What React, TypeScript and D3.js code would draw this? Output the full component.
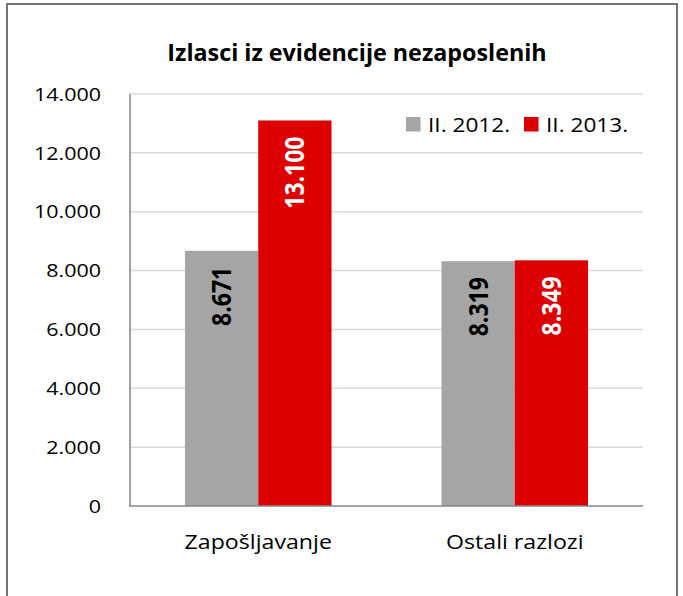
import React, { useEffect } from "react";
import * as d3 from "d3";

const categories = ["Zapošljavanje", "Ostali razlozi"];
const seriesNames = ["II. 2012.", "II. 2013."];
const values2012 = [8671, 8319];
const values2013 = [13100, 8349];
const yTicks = [0, 2000, 4000, 6000, 8000, 10000, 12000, 14000];
const title = "Izlasci iz evidencije nezaposlenih";

const W = 683;
const H = 596;
const margin = { left: 130, right: 40, top: 94, bottom: 90 };
const SX = 1.12; // text in the source is a bit wider than Open Sans
const FONT = "'Open Sans', 'Noto Sans', sans-serif";
const colors = ["#a5a5a5", "#dd0000"];
const labelColors = ["#000000", "#ffffff"];

const fmt = (v: number) => d3.format(",")(v).replace(/,/g, ".");

export default function App() {
  useEffect(() => {
    document.body.style.margin = "0";
  }, []);

  const plotRight = W - margin.right;
  const plotBottom = H - margin.bottom;

  const x0 = d3.scaleBand<string>().domain(categories).range([margin.left, plotRight]).padding(0);
  const x1 = d3
    .scaleBand<string>()
    .domain(seriesNames)
    .range([0, x0.bandwidth()])
    .paddingInner(0)
    .paddingOuter(0.75);
  const y = d3.scaleLinear().domain([0, 14000]).range([plotBottom, margin.top]);

  const series = [values2012, values2013];

  return (
    <svg width={W} height={H} style={{ display: "block" }} fontFamily={FONT}>
      <rect x={0} y={0} width={W} height={H} fill="#fff" />
      <rect x={7} y={4} width={670} height={620} fill="none" stroke="#767676" strokeWidth={2} />

      <text
        transform={`translate(357,61) scale(1.0,1)`}
        textAnchor="middle"
        fontSize={23.3}
        fontWeight="bold"
      >
        {title}
      </text>

      {yTicks.slice(1).map((t) => (
        <line key={t} x1={margin.left} x2={plotRight} y1={y(t)} y2={y(t)} stroke="#d9d9d9" strokeWidth={1.5} />
      ))}

      {yTicks.map((t) => (
        <text
          key={"l" + t}
          transform={`translate(101,${y(t) + 6.7}) scale(1.13,1)`}
          textAnchor="end"
          fontSize={19}
          fill="#000"
        >
          {fmt(t)}
        </text>
      ))}

      {categories.map((c, ci) =>
        seriesNames.map((s, si) => {
          const v = series[si][ci];
          const bx = (x0(c) as number) + (x1(s) as number);
          const bw = x1.bandwidth();
          const top = y(v);
          return (
            <g key={c + s}>
              <rect x={bx} y={top} width={bw} height={plotBottom - top} fill={colors[si]} />
              <text
                transform={`translate(${bx + bw / 2 + 9.5},${top + 16}) scale(1.16,1) rotate(-90)`}
                textAnchor="end"
                fontSize={23}
                fontWeight="bold"
                fill={labelColors[si]}
              >
                {fmt(v)}
              </text>
            </g>
          );
        })
      )}

      <line x1={margin.left} x2={margin.left} y1={margin.top} y2={plotBottom} stroke="#868686" strokeWidth={1.5} />
      <line x1={margin.left - 1} x2={plotRight} y1={plotBottom} y2={plotBottom} stroke="#868686" strokeWidth={1.5} />

      {categories.map((c) => (
        <text
          key={"c" + c}
          transform={`translate(${(x0(c) as number) + x0.bandwidth() / 2},549) scale(${SX},1)`}
          textAnchor="middle"
          fontSize={20.7}
        >
          {c}
        </text>
      ))}

      {seriesNames.map((s, i) => {
        const lx = [406, 524][i];
        return (
          <g key={"lg" + s}>
            <rect x={lx} y={117} width={14.5} height={14.5} fill={colors[i]} />
            <text transform={`translate(${lx + 22},131.7) scale(${SX},1)`} fontSize={20.2}>
              {s}
            </text>
          </g>
        );
      })}
    </svg>
  );
}
